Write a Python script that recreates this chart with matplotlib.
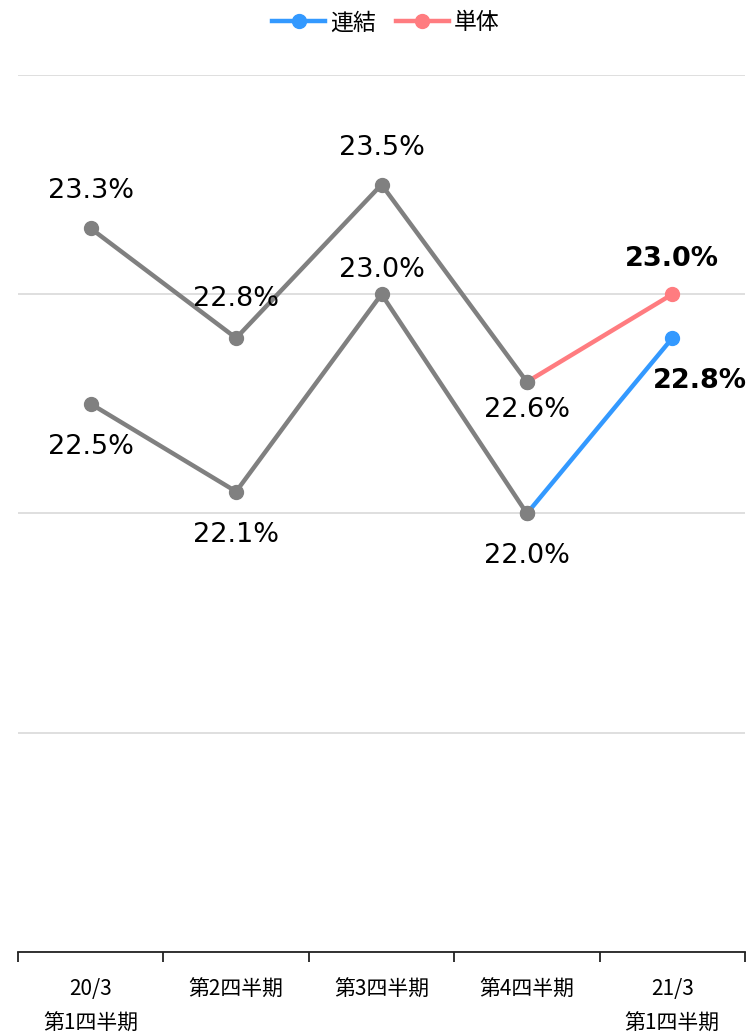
import matplotlib
matplotlib.use('Agg')
import matplotlib.pyplot as plt
from matplotlib.lines import Line2D

plt.rcParams['font.family'] = ['DejaVu Sans', 'Noto Sans CJK JP']

# data
categories = ['20/3\n第1四半期', '第2四半期', '第3四半期', '第4四半期', '21/3\n第1四半期']
consolidated = [22.5, 22.1, 23.0, 22.0, 22.8]   # 連結
standalone = [23.3, 22.8, 23.5, 22.6, 23.0]     # 単体
series_names = ['連結', '単体']

GRAY = '#808080'
BLUE = '#3399FF'
PINK = '#FF7C80'

fig = plt.figure(figsize=(7.52, 10.34), dpi=100)
ax = fig.add_axes([0.024, 0.0793, 0.9667, 0.8482])

x = list(range(len(categories)))

for vals, col in [(consolidated, BLUE), (standalone, PINK)]:
    ax.plot(x[:4], vals[:4], color=GRAY, lw=3.2, marker='o', ms=10, zorder=3)
    ax.plot(x[3:], vals[3:], color=col, lw=3.2, zorder=3)
    ax.plot(x[3], vals[3], 'o', color=GRAY, ms=10, zorder=4)
    ax.plot(x[4], vals[4], 'o', color=col, ms=10, zorder=4)

# label offsets (pixels) for each point
off_cons = [(0, -43), (0, -43), (0, 24), (0, -43), (28, -43)]
off_stand = [(0, 37), (0, 39), (0, 37), (0, -28), (0, 35)]

for vals, offs in [(consolidated, off_cons), (standalone, off_stand)]:
    for i, (v, o) in enumerate(zip(vals, offs)):
        bold = i == len(vals) - 1
        ax.annotate(f'{v:.1f}%', (x[i], v), xytext=o, textcoords='offset pixels',
                    ha='center', va='center', fontsize=19.5,
                    fontweight='bold' if bold else 'normal', zorder=5)

ax.set_xlim(-0.5, 4.5)
ax.set_ylim(20, 24)
ax.set_yticks([20, 21, 22, 23, 24])
ax.yaxis.grid(True, color='#d9d9d9', lw=1.2)
ax.set_axisbelow(True)
ax.tick_params(axis='y', left=False, labelleft=False)
for s in ['left', 'right', 'top']:
    ax.spines[s].set_visible(False)
ax.spines['bottom'].set_color('#222222')
ax.spines['bottom'].set_linewidth(1.3)

ax.set_xticks(x)
ax.set_xticklabels(categories, fontsize=15, family=['Noto Sans CJK JP'], linespacing=1.75)
ax.tick_params(axis='x', which='major', length=0, pad=19)
ax.set_xticks([-0.5, 0.5, 1.5, 2.5, 3.5, 4.5], minor=True)
ax.tick_params(axis='x', which='minor', length=7, width=1.3, color='#222222', direction='out')

handles = [Line2D([], [], color=BLUE, lw=3.2, marker='o', ms=10),
           Line2D([], [], color=PINK, lw=3.2, marker='o', ms=10)]
fig.legend(handles, series_names, loc='center', bbox_to_anchor=(0.513, 0.978),
           ncol=2, frameon=False, handlelength=2.3, handletextpad=0.2, columnspacing=0.9,
           prop={'family': 'Noto Sans CJK JP', 'size': 16.5})

fig.savefig('out.png', dpi=100)
